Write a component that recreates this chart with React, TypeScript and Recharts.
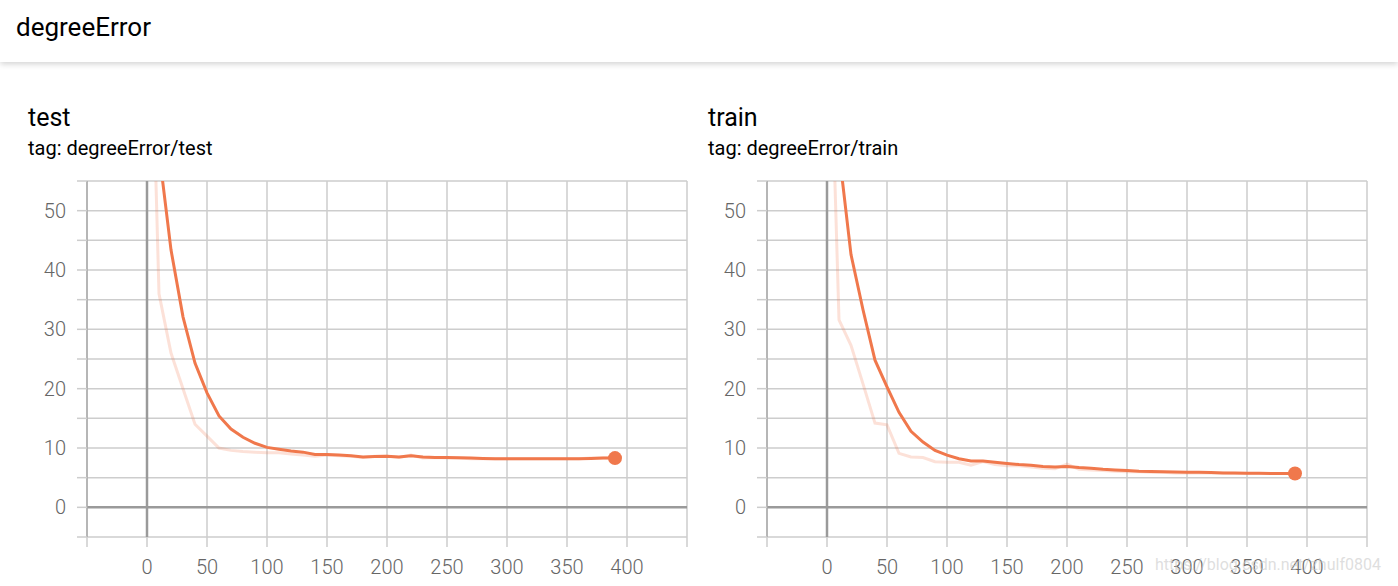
import { LineChart, Line, XAxis, YAxis, CartesianGrid, ReferenceLine } from 'recharts';

const steps = [0, 10, 20, 30, 40, 50, 60, 70, 80, 90, 100, 110, 120, 130, 140, 150, 160, 170, 180, 190, 200, 210, 220, 230, 240, 250, 260, 270, 280, 290, 300, 310, 320, 330, 340, 350, 360, 370, 380, 390]

const testRaw = [110, 36, 26, 20, 14, 12, 10, 9.6, 9.4, 9.3, 9.2, 9.2, 9.0, 8.8, 8.6, 8.8, 8.7, 8.6, 8.4, 8.6, 8.6, 8.4, 8.8, 8.3, 8.4, 8.3, 8.3, 8.2, 8.2, 8.2, 8.2, 8.2, 8.2, 8.2, 8.2, 8.2, 8.2, 8.3, 8.3, 8.3]
const testSmooth = [110, 60, 43.4, 32.1, 24.3, 19.3, 15.4, 13.2, 11.8, 10.8, 10.1, 9.8, 9.5, 9.3, 8.9, 8.9, 8.8, 8.7, 8.5, 8.55, 8.6, 8.5, 8.7, 8.5, 8.4, 8.4, 8.35, 8.3, 8.25, 8.2, 8.2, 8.2, 8.2, 8.2, 8.2, 8.2, 8.2, 8.25, 8.3, 8.3]

const trainRaw = [100, 31.6, 27.3, 20.8, 14.2, 13.9, 9.1, 8.5, 8.4, 7.7, 7.6, 7.6, 7.1, 7.7, 7.2, 7.0, 7.0, 6.8, 6.6, 6.5, 7.3, 6.4, 6.3, 6.2, 6.1, 6.0, 6.0, 5.9, 5.9, 5.8, 5.8, 5.8, 5.8, 5.8, 5.7, 5.7, 5.7, 5.7, 5.7, 5.7]
const trainSmooth = [100, 60, 42.6, 33.3, 24.8, 20.3, 16.0, 12.8, 11.0, 9.6, 8.8, 8.2, 7.8, 7.8, 7.6, 7.4, 7.2, 7.1, 6.9, 6.8, 6.9, 6.7, 6.6, 6.4, 6.3, 6.2, 6.1, 6.05, 6.0, 5.95, 5.9, 5.9, 5.85, 5.8, 5.8, 5.75, 5.75, 5.7, 5.7, 5.7]

const xTicks = [-50, 0, 50, 100, 150, 200, 250, 300, 350, 400, 450]
const yTicks = [-5, 0, 5, 10, 15, 20, 25, 30, 35, 40, 45, 50, 55]

const LINE = '#f0784c'
const GRID = '#cdcdcd'
const AXIS = '#9a9a9a'
const FONT = 'Roboto, "Helvetica Neue", Arial, sans-serif'

const XTick = (props: any) => {
    const { x, y, payload } = props
    if (payload.value < 0 || payload.value > 400) return <g />
    return (
        <text x={x} y={y} dy={27} textAnchor="middle" fill="#666" fontSize={20} fontWeight={300} fontFamily={FONT}>
            {payload.value}
        </text>
    )
}

const YTick = (props: any) => {
    const { x, y, payload } = props
    if (payload.value % 10 !== 0 || payload.value < 0 || payload.value > 50) return <g />
    return (
        <text x={x} y={y} dy={7} textAnchor="end" fill="#666" fontSize={20} fontWeight={300} fontFamily={FONT}>
            {payload.value}
        </text>
    )
}

type PanelProps = {
    title: string,
    tag: string,
    left: number,
    raw: number[],
    smooth: number[]
}

function Panel({ title, tag, left, raw, smooth }: PanelProps) {
    const data = steps.map((s, i) => ({ step: s, raw: raw[i], smooth: smooth[i] }))
    const last = data.length - 1

    const endDot = (p: any) => {
        if (p.index !== last) return <g key={`d-${p.index}`} />
        return <circle key={`d-${p.index}`} cx={p.cx} cy={p.cy} r={7} fill={LINE} />
    }

    return (
        <>
            <div style={{ position: 'absolute', left: left + 28, top: 103, fontSize: 25, fontFamily: FONT, color: '#000' }}>{title}</div>
            <div style={{ position: 'absolute', left: left + 28, top: 136, fontSize: 20, fontFamily: FONT, color: '#000' }}>{tag}</div>
            <div style={{ position: 'absolute', left: left, top: 170 }}>
                <LineChart width={700} height={416} data={data} margin={{ top: 11, right: 13, bottom: 0, left: 0 }}>
                    <CartesianGrid stroke={GRID} strokeWidth={1.5} />
                    <XAxis
                        dataKey="step"
                        type="number"
                        domain={[-50, 450]}
                        ticks={xTicks}
                        allowDataOverflow
                        height={49}
                        tickSize={10}
                        tickMargin={0}
                        tickLine={{ stroke: GRID, strokeWidth: 1.5 }}
                        axisLine={false}
                        tick={<XTick />}
                    />
                    <YAxis
                        type="number"
                        domain={[-5, 55]}
                        ticks={yTicks}
                        allowDataOverflow
                        width={87}
                        tickSize={10}
                        tickMargin={11}
                        tickLine={{ stroke: GRID, strokeWidth: 1.5 }}
                        axisLine={{ stroke: '#aaa', strokeWidth: 1.5 }}
                        tick={<YTick />}
                    />
                    <ReferenceLine x={0} stroke={AXIS} strokeWidth={2.5} />
                    <ReferenceLine y={0} stroke={AXIS} strokeWidth={2.5} />
                    <Line type="linear" dataKey="raw" stroke={LINE} strokeOpacity={0.22} strokeWidth={3} dot={false} activeDot={false} isAnimationActive={false} />
                    <Line type="linear" dataKey="smooth" stroke={LINE} strokeWidth={3} dot={endDot} activeDot={false} isAnimationActive={false} />
                </LineChart>
            </div>
        </>
    )
}

export default function App() {
    return (
        <div style={{ position: 'absolute', left: 0, top: 0, width: 1398, height: 586, background: '#fff', overflow: 'hidden', fontFamily: FONT }}>
            <div style={{ position: 'absolute', left: 0, top: 0, width: 1398, height: 62, background: '#fff', boxShadow: '0 2px 6px rgba(0,0,0,0.18)', zIndex: 2 }}>
                <div style={{ position: 'absolute', left: 16, top: 12, fontSize: 26, color: '#000' }}>degreeError</div>
            </div>
            <Panel title="test" tag="tag: degreeError/test" left={0} raw={testRaw} smooth={testSmooth} />
            <Panel title="train" tag="tag: degreeError/train" left={680} raw={trainRaw} smooth={trainSmooth} />
            <div style={{ position: 'absolute', left: 1155, top: 555, fontSize: 16, color: 'rgba(200,200,200,0.6)', fontFamily: FONT, whiteSpace: 'nowrap' }}>https://blog.csdn.net/zhulf0804</div>
        </div>
    )
}
